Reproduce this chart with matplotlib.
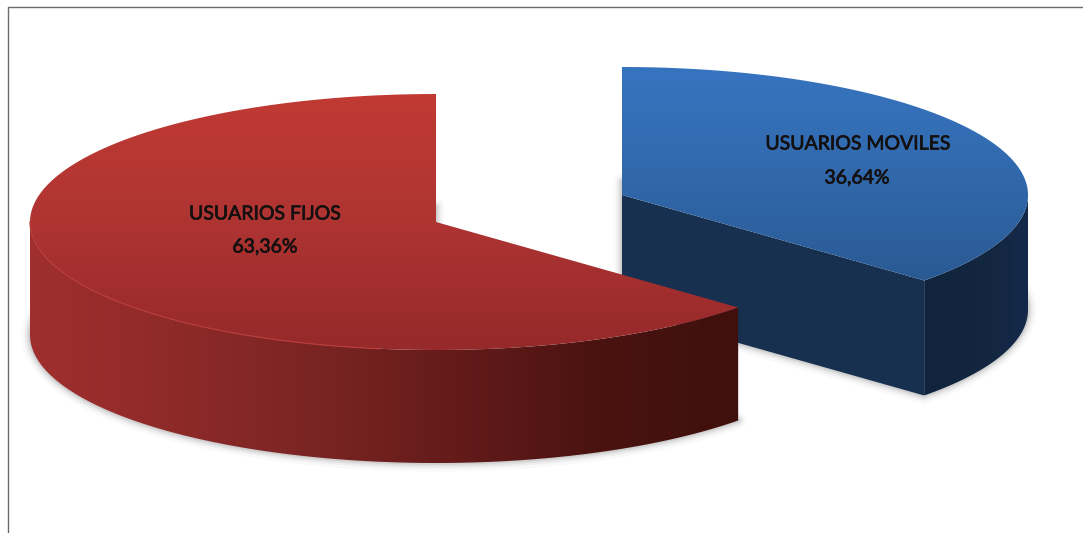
import numpy as np
import matplotlib
matplotlib.use('Agg')
import matplotlib.pyplot as plt
import matplotlib.patheffects as pe
from matplotlib.patches import Polygon
from matplotlib.colors import LinearSegmentedColormap

categories = ['USUARIOS FIJOS', 'USUARIOS MOVILES']
shares = [63.36, 36.64]
share_labels = ['63,36%', '36,64%']

RX, RY = 406, 128


def arc(cx, cy, t1, t2, dy=0, rx=RX, ry=RY):
    t = np.radians(np.linspace(t1, t2, 200))
    return np.column_stack([cx + rx * np.cos(t), cy - ry * np.sin(t) + dy])


def fill(ax, pts, colors, z, vertical=True):
    # gradient image clipped to the polygon
    patch = Polygon(pts, closed=True, fc='none', ec='none', zorder=z)
    ax.add_patch(patch)
    cmap = LinearSegmentedColormap.from_list('g', colors)
    ramp = np.linspace(0, 1, 256)
    ramp = ramp[:, None] if vertical else ramp[None, :]
    x0, y0 = pts.min(axis=0)
    x1, y1 = pts.max(axis=0)
    im = ax.imshow(ramp, cmap=cmap, extent=(x0, x1, y1, y0), origin='upper',
                   aspect='auto', interpolation='bilinear', zorder=z)
    im.set_clip_path(patch)


def shadow(ax, pts):
    for lw, a in [(12, 0.04), (8, 0.07), (5, 0.10), (2.5, 0.14)]:
        ax.add_patch(Polygon(pts, closed=True, fc='none', ec='#6a6a6a', lw=lw, alpha=a,
                             joinstyle='round', zorder=1))


fig = plt.figure(figsize=(10.83, 5.33), dpi=100)
ax = fig.add_axes([0, 0, 1, 1])

sweep = 360 * np.array(shares) / sum(shares)

# fijos goes counter clockwise from the top, moviles clockwise from the top
red_cx, red_cy, red_depth = 436, 222, 113
blue_cx, blue_cy, blue_depth = 622, 195, 115
red_end = 90 + sweep[0]
blue_end = 90 - sweep[1]

red_top = np.vstack([[red_cx, red_cy], arc(red_cx, red_cy, 90, red_end)])
blue_top = np.vstack([[blue_cx, blue_cy], arc(blue_cx, blue_cy, 90, blue_end)])

shadow(ax, red_top + [0, red_depth])
shadow(ax, blue_top + [0, blue_depth])

# moviles, drawn first because fijos covers it
corner = arc(blue_cx, blue_cy, blue_end, blue_end)[0]
centre = np.array([blue_cx, blue_cy])
cut = np.array([centre, corner, corner + [0, blue_depth], centre + [0, blue_depth]])
ax.add_patch(Polygon(cut, closed=True, fc='#17304f', ec='none', zorder=2))
edge = arc(blue_cx, blue_cy, blue_end, 0)
fill(ax, np.vstack([edge, edge[::-1] + [0, blue_depth]]),
     ['#11243e', '#12263f', '#15294a'], 3, vertical=False)
fill(ax, blue_top, ['#3774c0', '#3169ac', '#2a5a94'], 4)

# fijos
edge = arc(red_cx, red_cy, 180, red_end)
fill(ax, np.vstack([edge, edge[::-1] + [0, red_depth]]),
     ['#a02f2f', '#8e2a28', '#7a2523', '#641b1a', '#4a1310', '#3f100d'], 5, vertical=False)
fill(ax, red_top, ['#c13a34', '#ae3432', '#96292a'], 6)
ax.plot(*arc(red_cx, red_cy, 180, 262).T, color='#b83c3a', lw=0.9, zorder=7)

bold = [pe.withStroke(linewidth=0.5, foreground='#141010')]
ax.text(265, 214, categories[0], ha='center', va='center', fontsize=14, color='#141010',
        family='Lato', path_effects=bold, zorder=8)
ax.text(265, 247, share_labels[0], ha='center', va='center', fontsize=14, color='#141010',
        family='Lato', path_effects=bold, zorder=8)
ax.text(858, 144, categories[1], ha='center', va='center', fontsize=14, color='#141010',
        family='Lato', path_effects=bold, zorder=8)
ax.text(857, 178, share_labels[1], ha='center', va='center', fontsize=14, color='#141010',
        family='Lato', path_effects=bold, zorder=8)

# frame, only top and left show in the picture
ax.plot([8, 8, 1083], [533, 6.5, 6.5], color='#6b6b6b', lw=1, zorder=9)

ax.set_xlim(0, 1083)
ax.set_ylim(533, 0)
ax.axis('off')
fig.savefig('out.png', dpi=100)
